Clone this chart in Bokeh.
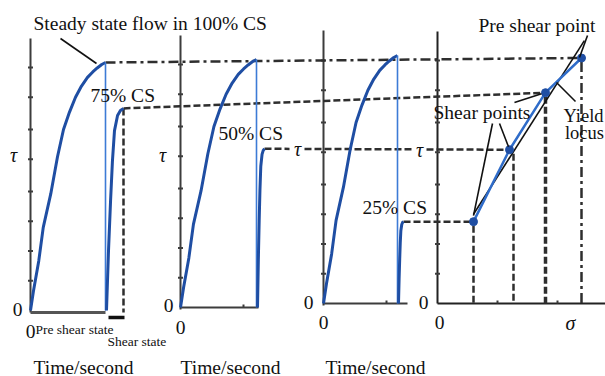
from bokeh.plotting import figure
from bokeh.models import Range1d
from bokeh.core.properties import value
from bokeh.embed import file_html
from bokeh.resources import INLINE

# ---------------- data ----------------
# pre-shear curve: fraction of pre-shear time vs fraction of steady-state stress
pre_t   = [0.0, 0.04, 0.11, 0.17, 0.27, 0.36, 0.44, 0.52, 0.60, 0.68, 0.76, 0.83, 0.89, 0.95, 1.0]
pre_tau = [0.0, 0.08, 0.20, 0.335, 0.47, 0.62, 0.73, 0.80, 0.86, 0.905, 0.94, 0.962, 0.978, 0.992, 1.0]
# shear curve: fraction of shear time vs fraction of the shear level
shear_t   = [0.0, 0.12, 0.24, 0.35, 0.47, 0.65, 0.82, 1.0]
shear_tau = [0.0, 0.30, 0.545, 0.74, 0.89, 0.965, 0.99, 1.0]
cs_labels   = ["75% CS", "50% CS", "25% CS"]
shear_level = [0.815, 0.64, 0.33]          # shear stress / steady-state stress
sigma_pct   = [25, 50, 75, 100]            # normal stress (% of pre-shear)
tau_points  = [0.33, 0.62, 0.85, 0.99]     # shear points + pre shear point
locus_sigma = [25, 102]
locus_tau   = [0.36, 1.06]
tick_tau    = [0.12, 0.24, 0.36, 0.48, 0.61, 0.73, 0.86, 0.98]
title_text  = "Steady state flow in 100% CS"
xlabel      = "Time/second"
ylabel      = "τ"
sigma_label = "σ"

# ---------------- layout (pixels) ----------------
S = 248.0
P_X0 = [30, 180, 323]
P_Y0 = [310, 307, 303]
P_TOP = [38, 35, 30]
P_W = [75, 76, 74]
P_XEND = [105, 258, 407]
SH_X0 = [106, 257, 398]
SH_D = [17, 7, 5]
Q_X0, Q_Y0, Q_TOP, Q_XEND = 437, 303, 31, 605
SIG = 1.44

FONT = value("Liberation Serif")
BLUE = "#1f4ea3"
DROP = "#3d7bd6"
DASH = "#2e2e2e"
AX = "#3c3c3c"
FS = "19.5px"
TC = "#111111"

p = figure(width=605, height=376, x_range=Range1d(0, 605), y_range=Range1d(376, 0),
           x_axis_type=None, y_axis_type=None, output_backend="svg",
           toolbar_location=None, min_border=0)
p.grid.visible = False
p.outline_line_color = None
p.background_fill_color = "white"
p.border_fill_color = "white"

def qx(s):
    return Q_X0 + s * SIG

def qy(t):
    return Q_Y0 - t * S

# ---- axes of time panels ----
for i in range(3):
    x0, y0 = P_X0[i], P_Y0[i]
    p.line([x0, x0], [P_TOP[i], y0 + 2], line_color=AX, line_width=2)
    p.segment(x0=[x0 - 2.5] * len(tick_tau), y0=[y0 - t * S for t in tick_tau],
              x1=[x0 + 2.5] * len(tick_tau), y1=[y0 - t * S for t in tick_tau],
              line_color=AX, line_width=2)
# x axes
p.line([P_X0[0], P_XEND[0]], [P_Y0[0] + 2, P_Y0[0] + 2], line_color="#555555", line_width=3)
p.line([P_X0[1], P_XEND[1]], [P_Y0[1], P_Y0[1]], line_color=AX, line_width=2)
p.line([P_X0[2], P_XEND[2]], [P_Y0[2], P_Y0[2]], line_color=AX, line_width=2)
p.segment(x0=[243, 386], y0=[P_Y0[1], P_Y0[2]], x1=[243, 386], y1=[P_Y0[1] - 3, P_Y0[2] - 3],
          line_color=AX, line_width=2)
# shear-state bar in panel 1
p.line([108, 124], [317, 317], line_color=TC, line_width=3.5)

# ---- sigma panel axes ----
p.line([Q_X0, Q_X0], [Q_TOP, Q_Y0], line_color="#222222", line_width=2)
p.line([Q_X0, Q_XEND], [Q_Y0, Q_Y0], line_color="#222222", line_width=2)
p.segment(x0=[Q_X0 - 2.5] * len(tick_tau), y0=[qy(t) for t in tick_tau],
          x1=[Q_X0 + 2.5] * len(tick_tau), y1=[qy(t) for t in tick_tau],
          line_color=AX, line_width=2)
p.segment(x0=[497, 557], y0=[Q_Y0, Q_Y0], x1=[497, 557], y1=[Q_Y0 - 3, Q_Y0 - 3],
          line_color=AX, line_width=2)

# ---- dashed connection lines ----
peak = (P_X0[0] + P_W[0], P_Y0[0] - S)
sh_end = [(SH_X0[i] + SH_D[i], P_Y0[i] - shear_level[i] * S) for i in range(3)]
pts = [(qx(s), qy(t)) for s, t in zip(sigma_pct, tau_points)]

p.line([peak[0], pts[3][0]], [peak[1], pts[3][1]], line_color=DASH, line_width=2.5,
       line_dash="10 4 3 4")
p.line([sh_end[0][0], pts[2][0]], [sh_end[0][1], pts[2][1]], line_color=DASH,
       line_width=2.5, line_dash="7 3")
# 50% line, broken where the tau labels sit
tau_x = [297, 419]
x_a, y_a = sh_end[1]
x_b, y_b = pts[1]
def yat(x):
    return y_a + (y_b - y_a) * (x - x_a) / (x_b - x_a)
brk = [x_a, tau_x[0] - 8, tau_x[0] + 7, tau_x[1] - 8, tau_x[1] + 7, x_b]
p.multi_line(xs=[[brk[0], brk[1]], [brk[2], brk[3]], [brk[4], brk[5]]],
             ys=[[yat(brk[0]), yat(brk[1])], [yat(brk[2]), yat(brk[3])], [yat(brk[4]), yat(brk[5])]],
             line_color=DASH, line_width=2.5, line_dash="7 3")
p.line([sh_end[2][0], pts[0][0]], [sh_end[2][1], pts[0][1]], line_color=DASH,
       line_width=2.5, line_dash="7 3")
# vertical dashed
p.line([sh_end[0][0], sh_end[0][0]], [sh_end[0][1], P_Y0[0] + 2], line_color=DASH,
       line_width=2.5, line_dash="7 3")
for k, (px_, py_) in enumerate(pts):
    p.line([px_ + (4 if k == 1 else 0), px_ + (4 if k == 1 else 0)], [py_ + 4, Q_Y0],
           line_color=DASH, line_width=3.5 if k == 2 else 2.5,
           line_dash="10 4 3 4" if k == 3 else "7 3")

# ---- curves ----
for i in range(3):
    x0, y0, w = P_X0[i], P_Y0[i], P_W[i]
    p.line([x0 + t * w for t in pre_t], [y0 - v * S for v in pre_tau],
           line_color=BLUE, line_width=3, line_join="round")
    p.line([x0 + w, x0 + w], [y0 - S, y0], line_color=DROP, line_width=1.6)
    p.line([SH_X0[i] + t * SH_D[i] for t in shear_t],
           [y0 - v * shear_level[i] * S for v in shear_tau],
           line_color=BLUE, line_width=3, line_join="round")

# ---- sigma-tau panel ----
p.line([qx(s) for s in locus_sigma], [qy(t) for t in locus_tau], line_color=TC,
       line_width=1.6)
p.line([q[0] for q in pts], [q[1] for q in pts], line_color="#2f6cc9", line_width=2.5)
p.scatter([q[0] for q in pts], [q[1] for q in pts], size=8, fill_color=BLUE,
          line_color=BLUE)

# ---- annotation pointer lines ----
p.segment(x0=[60, 492, 499, 514, 575, 587], y0=[38, 123, 123, 102, 101, 35],
          x1=[96, pts[0][0], pts[1][0] - 1, pts[2][0] - 4, 556, 579],
          y1=[63, pts[0][1] - 6, pts[1][1] - 3, pts[2][1] + 1, 82, 57],
          line_color=TC, line_width=1.6)

# ---- texts (vertical position = centre of the capital letters) ----
def txt(x, y, t, size=FS, align="left", style="normal"):
    p.text(x=x, y=y, text=t, text_font=FONT, text_font_size=size, text_align=align,
           text_baseline="middle", text_font_style=style, text_color=TC)

txt([33], [22.5], [title_text])
txt([90, 218, 362], [95, 132.5, 206.5], cs_labels)
txt([35], [329], ["Pre shear state"], size="13.5px")
txt([107], [340.5], ["Shear state"], size="13.5px")
txt([33, 180, 325], [366.5] * 3, [xlabel] * 3)
txt([13, 162, tau_x[0], tau_x[1]], [154, 154, 148, 149], [ylabel] * 4, size="20px",
    align="center", style="italic")
txt([570], [322], [sigma_label], size="20px", align="center", style="italic")
txt([17, 168, 308, 423, 30, 180, 323, 439], [309, 305, 302, 302, 331, 327, 322, 322],
    ["0"] * 8, align="center")
txt([478], [24.5], ["Pre shear point"])
txt([433], [112], ["Shear points"])
txt([583, 584], [115, 132.5], ["Yield", "locus"], size="18.5px", align="center")

open("out.html", "w").write(file_html(p, INLINE))
